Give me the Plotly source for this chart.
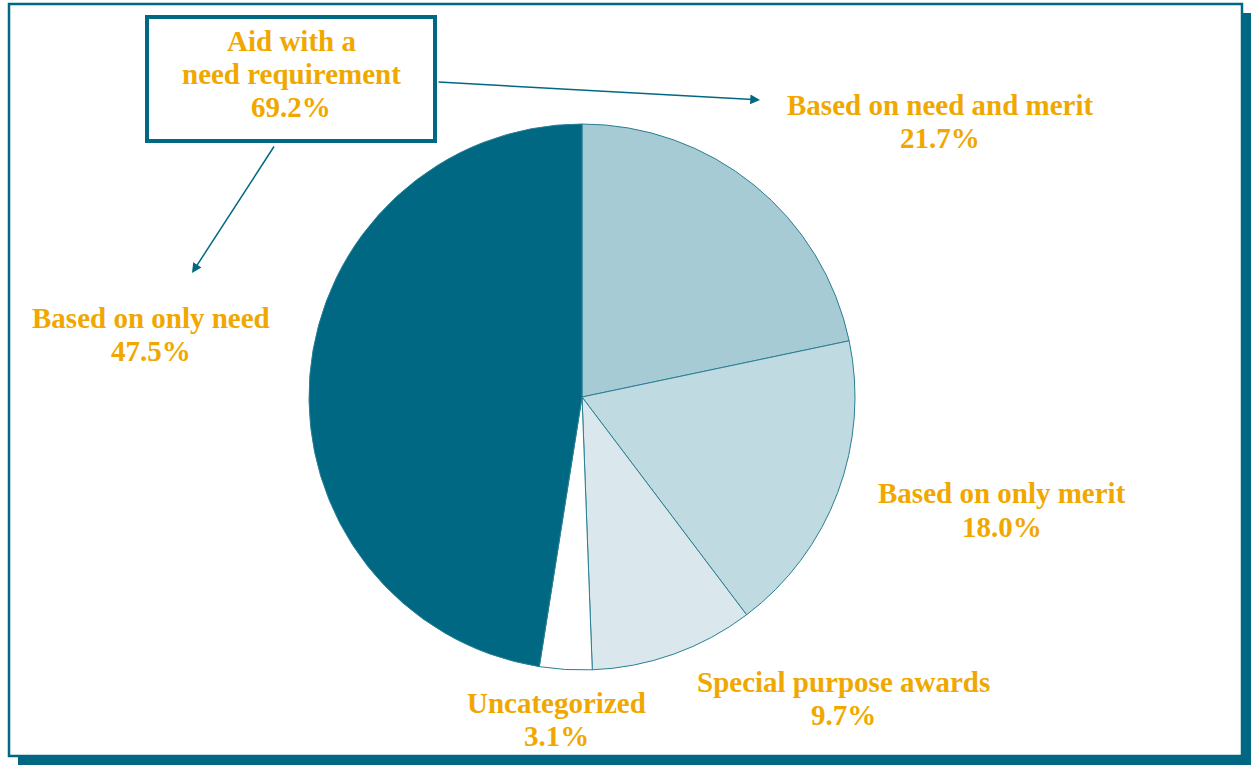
import plotly.graph_objects as go

W, H = 1251, 765

categories = ["Based on need and merit", "Based on only merit", "Special purpose awards",
              "Uncategorized", "Based on only need"]
values = [21.7, 18.0, 9.7, 3.1, 47.5]
slice_colors = ["#A7CBD4", "#BFDAE1", "#DAE8EE", "#FFFFFF", "#006882"]
need_total_lines = ["Aid with a", "need requirement", "69.2%"]

TEAL = "#006882"
GOLD = "#F0A800"
FONT = "Liberation Serif, Times New Roman, serif"
FS = 29


def px(x):
    return x / W


def py(y):
    return 1 - y / H


fig = go.Figure()
fig.add_trace(go.Pie(
    labels=categories, values=values, sort=False, direction="clockwise", rotation=0,
    marker=dict(colors=slice_colors, line=dict(color="#2A7F93", width=1)),
    textinfo="none", hoverinfo="label+percent", showlegend=False,
    domain=dict(x=[px(309), px(855)], y=[py(670), py(124)]),
))

# (x center, y of first line, y of second line) in pixels
label_pos = {
    "Based on need and merit": (940, 104, 137),
    "Based on only merit": (1002, 492, 526),
    "Special purpose awards": (843, 681, 714),
    "Uncategorized": (556, 702, 735),
    "Based on only need": (151, 317, 350),
}

annotations = []


def add_text(x, y, text):
    annotations.append(dict(
        x=px(x), y=py(y + 1), xref="paper", yref="paper", showarrow=False,
        text=f"<b>{text}</b>", font=dict(family=FONT, size=FS, color=GOLD),
        xanchor="center", yanchor="middle",
    ))


for cat, val in zip(categories, values):
    x, y1, y2 = label_pos[cat]
    add_text(x, y1, cat)
    add_text(x, y2, f"{val:.1f}%")

for line, y in zip(need_total_lines, [40, 73, 106]):
    add_text(291, y, line)

# arrows
annotations.append(dict(
    x=px(760), y=py(100), xref="paper", yref="paper", showarrow=True, text="",
    ax=437 - 760, ay=82 - 100, arrowhead=2, arrowsize=1.3, arrowwidth=1.5, arrowcolor=TEAL,
))
annotations.append(dict(
    x=px(192), y=py(273), xref="paper", yref="paper", showarrow=True, text="",
    ax=275 - 192, ay=145 - 273, arrowhead=2, arrowsize=1.3, arrowwidth=1.5, arrowcolor=TEAL,
))

shapes = [
    # shadow
    dict(type="rect", xref="paper", yref="paper", x0=px(18), x1=px(1251), y0=py(765), y1=py(13),
         fillcolor=TEAL, line=dict(width=0), layer="below"),
    # frame
    dict(type="rect", xref="paper", yref="paper", x0=px(9), x1=px(1242), y0=py(756), y1=py(4),
         fillcolor="white", line=dict(color=TEAL, width=2.5), layer="below"),
    # box
    dict(type="rect", xref="paper", yref="paper", x0=px(147), x1=px(435), y0=py(141), y1=py(17),
         fillcolor="white", line=dict(color=TEAL, width=4), layer="below"),
]

fig.update_layout(
    width=W, height=H, margin=dict(l=0, r=0, t=0, b=0),
    paper_bgcolor="white", plot_bgcolor="white",
    annotations=annotations, shapes=shapes,
)

fig.write_html("out.html", config={"displayModeBar": False},
               post_script="document.body.style.margin='0';document.body.style.overflow='hidden';")
